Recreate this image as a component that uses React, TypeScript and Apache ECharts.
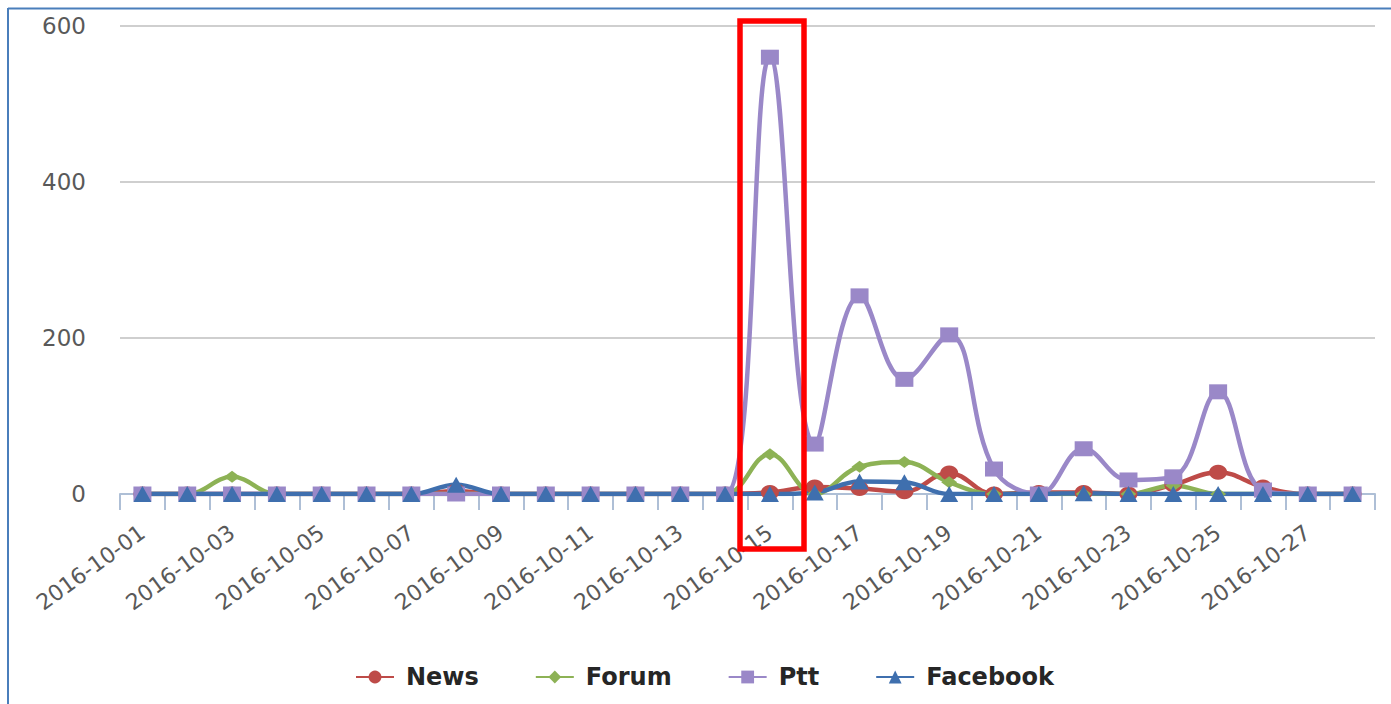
import React, { useEffect, useRef } from "react";
import * as echarts from "echarts";

const categories = [
  "2016-10-01", "2016-10-02", "2016-10-03", "2016-10-04", "2016-10-05", "2016-10-06", "2016-10-07",
  "2016-10-08", "2016-10-09", "2016-10-10", "2016-10-11", "2016-10-12", "2016-10-13", "2016-10-14",
  "2016-10-15", "2016-10-16", "2016-10-17", "2016-10-18", "2016-10-19", "2016-10-20", "2016-10-21",
  "2016-10-22", "2016-10-23", "2016-10-24", "2016-10-25", "2016-10-26", "2016-10-27", "2016-10-28",
];

const newsValues = [0, 0, 0, 0, 0, 0, 0, 4, 0, 0, 0, 0, 0, 0, 2, 9, 7, 3, 27, 0, 2, 2, 0, 12, 28, 9, 0, 0];
const forumValues = [0, 0, 22, 0, 0, 0, 0, 0, 0, 0, 0, 0, 0, 0, 51, 0, 35, 41, 15, 0, 0, 0, 0, 11, 0, 0, 0, 0];
const pttValues = [0, 0, 0, 0, 0, 0, 0, 0, 0, 0, 0, 0, 0, 0, 560, 64, 254, 147, 204, 32, 0, 58, 18, 22, 131, 5, 0, 0];
const facebookValues = [0, 0, 0, 0, 0, 0, 0, 12, 0, 0, 0, 0, 0, 0, 0, 2, 16, 15, 0, 0, 0, 1, 0, 0, 0, 0, 0, 0];

const seriesNames = ["News", "Forum", "Ptt", "Facebook"];
const seriesColors = ["#BE4B48", "#8DB255", "#9A88C8", "#3F6FAE"];
const seriesSymbols = ["circle", "diamond", "rect", "triangle"];
const seriesSizes = [[18, 15], [16, 12], [18, 15], [18, 16]];

const FONT = "'DejaVu Sans', Verdana, sans-serif";

export default function App() {
  const ref = useRef<HTMLDivElement>(null);

  useEffect(() => {
    if (!ref.current) return;
    const chart = echarts.init(ref.current, undefined, { renderer: "svg" });
    const allValues = [newsValues, forumValues, pttValues, facebookValues];
    chart.setOption({
      animation: false,
      backgroundColor: "#ffffff",
      grid: { left: 120, right: 16, top: 26, bottom: 210, containLabel: false },
      legend: {
        left: 350,
        top: 660,
        itemWidth: 38,
        itemHeight: 16,
        itemGap: 56,
        textStyle: {
          fontFamily: FONT,
          fontSize: 24,
          fontWeight: "bold",
          color: "#262626",
          padding: [0, 0, 0, 7],
        },
        data: seriesNames,
      },
      xAxis: {
        type: "category",
        data: categories,
        boundaryGap: true,
        axisLine: { lineStyle: { color: "#AEBFD6", width: 2 } },
        axisTick: { show: true, interval: 0, length: 16, lineStyle: { color: "#AEBFD6", width: 2 } },
        axisLabel: {
          interval: 1,
          rotate: 36,
          margin: 36,
          fontFamily: FONT,
          fontSize: 22,
          color: "#595959",
        },
      },
      yAxis: {
        type: "value",
        min: 0,
        max: 600,
        interval: 200,
        axisLine: { show: false },
        axisTick: { show: false },
        axisLabel: { margin: 34, fontFamily: FONT, fontSize: 23, color: "#595959" },
        splitLine: { lineStyle: { color: "#BFBFBF", width: 1.5 } },
      },
      series: seriesNames.map((name, i) => ({
        name,
        type: "line",
        data: allValues[i],
        smooth: 0.4,
        symbol: seriesSymbols[i],
        symbolSize: seriesSizes[i],
        color: seriesColors[i],
        lineStyle: { width: 4.5, color: seriesColors[i] },
        itemStyle: { color: seriesColors[i] },
      })),
      graphic: [
        {
          type: "line",
          shape: { x1: 8, y1: 8, x2: 8, y2: 704 },
          style: { stroke: "#4A7EBB", lineWidth: 2 },
        },
        {
          type: "line",
          shape: { x1: 8, y1: 8.5, x2: 1391, y2: 8.5 },
          style: { stroke: "#4A7EBB", lineWidth: 2 },
        },
        {
          type: "rect",
          shape: { x: 740, y: 21, width: 64, height: 528 },
          style: { fill: "none", stroke: "#FF0000", lineWidth: 5.5 },
          z: 100,
        },
      ],
    });
    return () => chart.dispose();
  }, []);

  return (
    <div
      ref={ref}
      style={{ position: "fixed", left: 0, top: 0, width: 1391, height: 704 }}
    />
  );
}
